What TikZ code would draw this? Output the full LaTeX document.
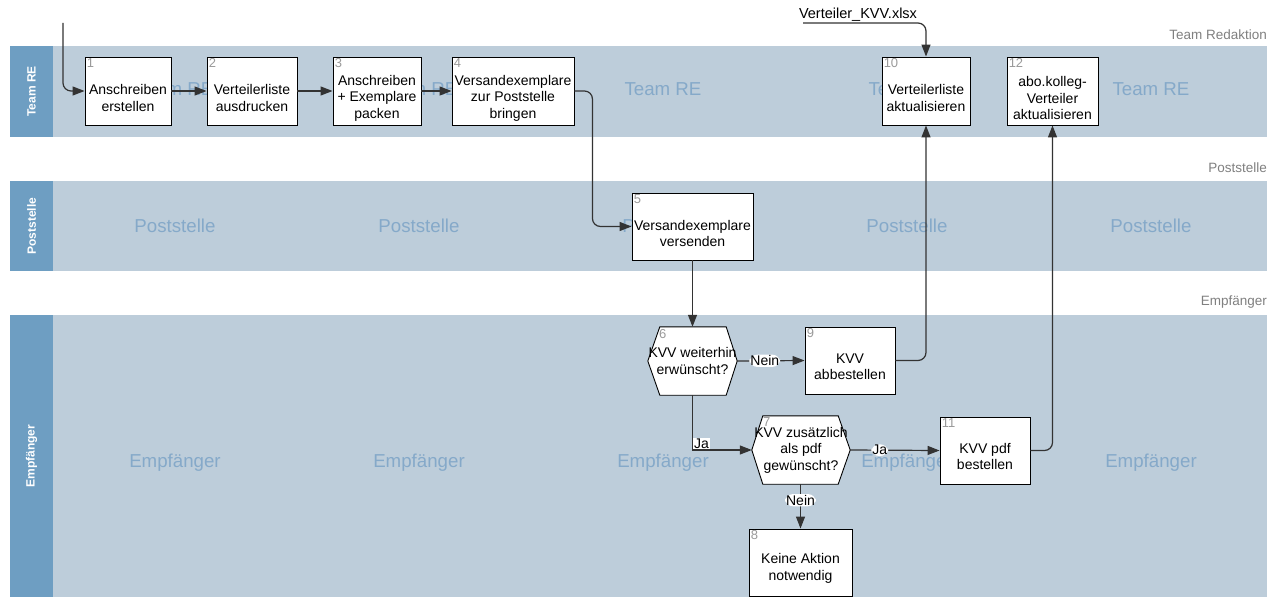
\documentclass[tikz,border=0pt]{standalone}
\usepackage{fontspec}
\setmainfont{Liberation Sans}
\usetikzlibrary{arrows.meta,calc}
\definecolor{lanehead}{HTML}{6E9EC2}
\definecolor{laneband}{HTML}{BDCDDA}
\definecolor{water}{HTML}{85A9C9}
\definecolor{conncol}{HTML}{333333}
\definecolor{numcol}{HTML}{9A9A9A}
\definecolor{sidecol}{HTML}{808080}
\begin{document}
\begin{tikzpicture}[x=1pt,y=-1pt,
  band/.style={fill=laneband,draw=none},
  head/.style={fill=lanehead,draw=none},
  headtxt/.style={font=\bfseries\fontsize{12}{12}\selectfont,text=white,rotate=90,inner sep=0pt},
  wm/.style={font=\fontsize{18.7}{20}\selectfont,text=water,inner sep=0pt},
  side/.style={font=\fontsize{13.5}{14}\selectfont,text=sidecol,anchor=east,inner sep=0pt},
  box/.style={draw=black,line width=0.9pt,fill=white,minimum width=#1,minimum height=67pt,inner sep=0pt},
  hexbase/.style={draw=none,minimum width=#1,minimum height=68pt,inner sep=0pt},
  hexline/.style={draw=black,line width=0.9pt,fill=white},
  txt/.style={font=\fontsize{14}{16.5}\selectfont,align=center,inner sep=0pt},
  num/.style={font=\fontsize{13}{13}\selectfont,text=numcol,anchor=north west,inner sep=2pt},
  conn/.style={draw=conncol,line width=1.2pt,-{Triangle[length=12pt,width=9pt]},rounded corners=8pt},
  lbl/.style={font=\fontsize{14}{14}\selectfont,fill=white,inner sep=1pt,text=black}
]
\useasboundingbox (0,0) rectangle (1277,599);
\fill[white] (0,0) rectangle (1277,599);

% lanes
\fill[band] (53,46) rectangle (1267,137);
\fill[head] (10,46) rectangle (53,137);
\fill[band] (53,181) rectangle (1267,271);
\fill[head] (10,181) rectangle (53,271);
\fill[band] (53,315) rectangle (1267,597);
\fill[head] (10,315) rectangle (53,597);
\node[headtxt] (hre) at (31.5,91.5) {Team RE};
\node[headtxt] (hps) at (31.5,226) {Poststelle};
\node[headtxt] (hem) at (31.5,456) {Empfänger};

\node[side] (sre) at (1267,35) {Team Redaktion};
\node[side] (sps) at (1267,168) {Poststelle};
\node[side] (sem) at (1267,302) {Empfänger};

% watermarks
\foreach \i/\x in {1/175,2/419,3/663,4/907,5/1151}{
  \node[wm] (wa\i) at (\x,89) {Team RE};
  \node[wm] (wb\i) at (\x,226) {Poststelle};
  \node[wm] (wc\i) at (\x,463) {Empfänger};
}

% boxes
\node[box=86pt,minimum height=68pt] (b1) at (128,91) {};
\node[box=90pt,minimum height=68pt] (b2) at (252,91) {};
\node[box=88pt,minimum height=68pt] (b3) at (377,91) {};
\node[box=122pt,minimum height=68pt] (b4) at (513,91) {};
\node[box=88pt,minimum height=68pt] (b10) at (926,91) {};
\node[box=91pt,minimum height=68pt] (b12) at (1052.5,91) {};
\node[box=121pt] (b5) at (692.5,226.5) {};
\node[box=90pt] (b9) at (850,360.5) {};
\node[box=90pt] (b11) at (985,450.5) {};
\node[box=103pt] (b8) at (800.5,562.5) {};

\node[hexbase=89pt] (h6) at (692.5,361) {};
\node[hexbase=98pt] (h7) at (801,450) {};
\draw[hexline] (h6.west) -- ([xshift=12pt]h6.north west) -- ([xshift=-11pt]h6.north east) -- (h6.east) -- ([xshift=-11pt]h6.south east) -- ([xshift=12pt]h6.south west) -- cycle;
\draw[hexline] (h7.west) -- ([xshift=11pt]h7.north west) -- ([xshift=-12pt]h7.north east) -- (h7.east) -- ([xshift=-12pt]h7.south east) -- ([xshift=11pt]h7.south west) -- cycle;

% texts
\node[txt] (t1) at ($(b1.center)+(0,7)$) {Anschreiben\\erstellen};
\node[txt] (t2) at ($(b2.center)+(0,7)$) {Verteilerliste\\ausdrucken};
\node[txt] (t3) at ($(b3.center)+(0,7)$) {Anschreiben\\+ Exemplare\\packen};
\node[txt] (t4) at ($(b4.center)+(0,7)$) {Versandexemplare\\zur Poststelle\\bringen};
\node[txt] (t10) at ($(b10.center)+(0,7)$) {Verteilerliste\\aktualisieren};
\node[txt] (t12) at ($(b12.center)+(0,7)$) {abo.kolleg-\\Verteiler\\aktualisieren};
\node[txt] (t5) at ($(b5.center)+(0,7)$) {Versandexemplare\\versenden};
\node[txt] (t9) at ($(b9.center)+(0,6)$) {KVV\\abbestellen};
\node[txt] (t11) at ($(b11.center)+(0,6)$) {KVV pdf\\bestellen};
\node[txt] (t8) at ($(b8.center)+(0,6)$) {Keine Aktion\\notwendig};
\node[txt] (t6) at ($(h6.center)+(0,0)$) {KVV weiterhin\\erwünscht?};
\node[txt] (t7) at ($(h7.center)+(0,0)$) {KVV zusätzlich\\als pdf\\gewünscht?};

% numbers
\node[num] (n1) at (b1.north west) {1};
\node[num] (n2) at (b2.north west) {2};
\node[num] (n3) at (b3.north west) {3};
\node[num] (n4) at (b4.north west) {4};
\node[num] (n5) at (b5.north west) {5};
\node[num] (n6) at ([xshift=9pt]h6.north west) {6};
\node[num] (n7) at ([xshift=9pt]h7.north west) {7};
\node[num] (n8) at (b8.north west) {8};
\node[num] (n9) at (b9.north west) {9};
\node[num] (n10) at (b10.north west) {10};
\node[num] (n11) at (b11.north west) {11};
\node[num] (n12) at (b12.north west) {12};

% external file
\node[font=\fontsize{14.5}{15}\selectfont,inner sep=0pt] (vt) at (858,15) {Verteiler\_KVV.xlsx};
\coordinate (vs) at (803,23);
\coordinate (ins) at (63,23);

% connectors
\draw[conn] (ins) |- (b1.west);
\draw[conn] (b1) -- (b2);
\draw[conn] (b2) -- (b3);
\draw[conn] (b3) -- (b4);
\draw[conn] (b4.east) -- ++(18,0) |- (b5.west);
\draw[conn] (b5) -- (h6.north);
\draw[conn] (h6.east) -- node[lbl,pos=.41] (l1) {Nein} (b9.west);
\draw[conn,rounded corners=0pt] (h6.south) |- node[lbl,pos=.5,anchor=south west] (l2) {Ja} (h7.west);
\draw[conn] (h7.east) -- node[lbl,pos=.33] (l3) {Ja} (b11.west);
\draw[conn] (h7.south -| b8.north) -- node[lbl,pos=.36] (l4) {Nein} (b8.north);
\draw[conn] (b9.east) -| (b10.south);
\draw[conn] (b11.east) -| (b12.south);
\draw[conn] (vs) -| (b10.north);
\end{tikzpicture}
\end{document}
